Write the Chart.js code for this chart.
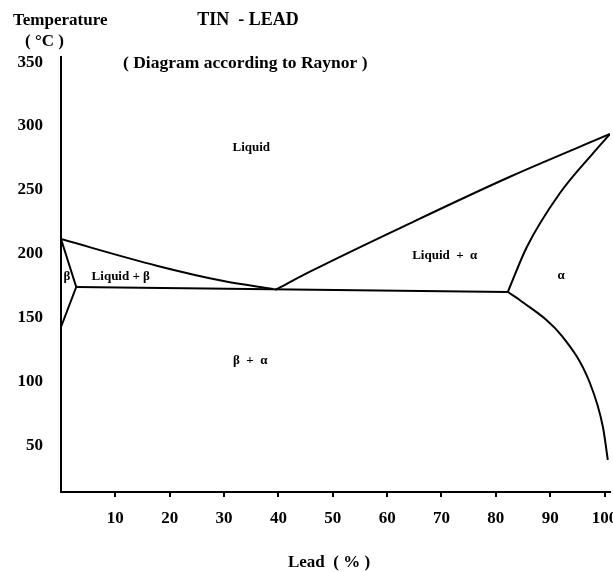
<!DOCTYPE html>
<html>
<head>
<meta charset="utf-8">
<script src="https://cdn.jsdelivr.net/npm/chart.js@4/dist/chart.umd.min.js"></script>
<style>
  html, body { margin: 0; padding: 0; background: #fff; }
  #wrap { width: 613px; height: 572px; }
</style>
</head>
<body>
<div id="wrap"><canvas id="c" width="613" height="572"></canvas></div>
<script>
// ---- Axis ticks ----
const leadTicks = [10, 20, 30, 40, 50, 60, 70, 80, 90, 100];
const tempTicks = [50, 100, 150, 200, 250, 300, 350];

// ---- Phase boundaries (Lead %, Temperature °C) ----
const liqLeftX  = [0, 17.6, 29.9, 39.0];
const liqLeftT  = [211.7, 190.9, 178.9, 172.7];

const liqRightX = [39.4, 45.8, 64.2, 82.6, 101];
const liqRightT = [171.9, 186.2, 224.0, 260.4, 293.8];

const eutecticX = [2.8, 82.2];
const eutecticT = [174.2, 170.3];

const betaX = [0, 2.8, 0];
const betaT = [211.7, 174.2, 143.0];

const alphaSolidusX = [82.2, 85.7, 91.8, 97.9, 101];
const alphaSolidusT = [170.3, 205.5, 247.7, 278.9, 293.8];

const alphaSolvusX = [82.2, 84.4, 92.3, 97.3, 99.7, 100.6];
const alphaSolvusT = [170.3, 164.1, 135.2, 99.2, 64.8, 39.1];

// ---- Region labels ----
const regionNames = ['Liquid', 'Liquid + \u03b2', '\u03b2', 'Liquid  +  \u03b1', '\u03b1', '\u03b2  +  \u03b1'];
const regionX     = [35.0, 11.0, 1.1, 70.6, 92.0, 34.8];
const regionT     = [282.8, 182.0, 182.0, 198.4, 182.8, 117.0];

function pts(xs, ys) { return xs.map((x, i) => ({ x: x, y: ys[i] })); }
function line(xs, ys, curved) {
  return {
    data: pts(xs, ys),
    showLine: true,
    borderColor: '#000',
    borderWidth: 2,
    pointRadius: 0,
    cubicInterpolationMode: curved ? 'monotone' : 'default',
    tension: curved ? 0.4 : 0,
    fill: false
  };
}

const SERIF = '"Liberation Serif", "Times New Roman", serif';

const textPlugin = {
  id: 'texts',
  afterDraw(chart) {
    const ctx = chart.ctx;
    const xs = chart.scales.x, ys = chart.scales.y;
    ctx.save();
    ctx.fillStyle = '#000';
    ctx.textBaseline = 'middle';
    // headers
    ctx.font = 'bold 17px ' + SERIF;
    ctx.textAlign = 'left';
    ctx.fillText('Temperature', 13, 21);
    ctx.fillText('( \u00b0C )', 25, 42);
    ctx.font = 'bold 18px ' + SERIF;
    ctx.textAlign = 'center';
    ctx.fillText('TIN  - LEAD', 248, 20);
    ctx.font = 'bold 17.5px ' + SERIF;
    ctx.textAlign = 'left';
    ctx.fillText('( Diagram according to Raynor )', 123, 63);
    // x axis title
    ctx.font = 'bold 17px ' + SERIF;
    ctx.textAlign = 'center';
    ctx.fillText('Lead  ( % )', 329, 563);
    // region labels
    ctx.font = 'bold 13px ' + SERIF;
    regionNames.forEach((name, i) => {
      ctx.fillText(name, xs.getPixelForValue(regionX[i]), ys.getPixelForValue(regionT[i]));
    });
    ctx.restore();
  }
};

new Chart(document.getElementById('c'), {
  type: 'scatter',
  data: {
    datasets: [
      line(liqLeftX, liqLeftT, true),
      line(liqRightX, liqRightT, true),
      line(eutecticX, eutecticT, false),
      line(betaX, betaT, false),
      line(alphaSolidusX, alphaSolidusT, true),
      line(alphaSolvusX, alphaSolvusT, true)
    ]
  },
  options: {
    responsive: false,
    animation: false,
    devicePixelRatio: 1,
    layout: { padding: { top: 57, right: 3, left: 0, bottom: 0 } },
    plugins: { legend: { display: false }, tooltip: { enabled: false } },
    scales: {
      x: {
        type: 'linear',
        min: 0,
        max: 101,
        afterBuildTicks(s) { s.ticks = leadTicks.map(v => ({ value: v })); },
        afterFit(s) { s.height = 80; s.paddingLeft = 0; s.paddingRight = 0; },
        grid: { display: true, drawOnChartArea: false, drawTicks: true, tickLength: 5, color: '#000', lineWidth: 2 },
        border: { display: true, color: '#000', width: 2 },
        ticks: { color: '#000', padding: 11, maxRotation: 0, autoSkip: false, font: { family: SERIF, size: 17, weight: 'bold' } }
      },
      y: {
        type: 'linear',
        min: 14,
        max: 354,
        afterBuildTicks(s) { s.ticks = tempTicks.map(v => ({ value: v })); },
        afterFit(s) { s.width = 61; s.paddingTop = 0; s.paddingBottom = 0; },
        grid: { display: false, drawTicks: false },
        border: { display: true, color: '#000', width: 2 },
        ticks: { color: '#000', padding: 18, autoSkip: false, font: { family: SERIF, size: 17, weight: 'bold' } }
      }
    }
  },
  plugins: [textPlugin]
});
</script>
</body>
</html>
